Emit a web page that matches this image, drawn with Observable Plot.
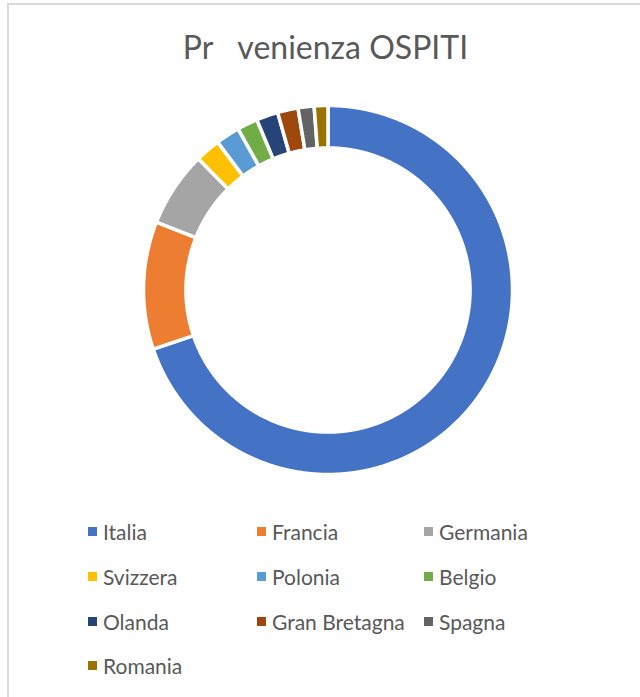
<!DOCTYPE html>
<html>
<head>
<meta charset="utf-8">
<script src="https://cdn.jsdelivr.net/npm/d3@7"></script>
<script src="https://cdn.jsdelivr.net/npm/@observablehq/plot@0.6"></script>
<style>
  html, body { margin: 0; padding: 0; background: #fff; }
  #wrap { position: relative; width: 640px; height: 697px; overflow: hidden; font-family: Lato, "Open Sans", sans-serif; color: #595959; }
  #frame { position: absolute; left: 7px; top: 3px; width: 700px; height: 720px; border-left: 2px solid #d9d9d9; border-top: 2px solid #d9d9d9; box-sizing: border-box; }
  #title { position: absolute; left: 0; width: 651px; top: 31px; text-align: center; font-size: 32px; line-height: 32px; white-space: pre; }
  #chart { position: absolute; left: 0; top: 0; }
  #legend { position: absolute; left: 0; top: 0; }
  .item { position: absolute; display: flex; align-items: center; font-size: 21px; line-height: 21px; white-space: nowrap; }
  .sw { width: 9px; height: 9px; margin-right: 6px; }
</style>
</head>
<body>
<div id="wrap">
  <div id="frame"></div>
  <div id="title"></div>
  <div id="chart"></div>
  <div id="legend"></div>
</div>
<script>
const title = "Pr\u2003venienza OSPITI";
const countries = ["Italia", "Francia", "Germania", "Svizzera", "Polonia", "Belgio", "Olanda", "Gran Bretagna", "Spagna", "Romania"];
const shares = [69.8, 11.2, 6.6, 2.2, 2.1, 1.8, 1.9, 1.8, 1.4, 1.2];
const palette = ["#4472C4", "#ED7D31", "#A5A5A5", "#FFC000", "#5B9BD5", "#70AD47", "#264478", "#9E480E", "#636363", "#997300"];

document.getElementById("title").textContent = title;

// build donut slices as planar polygons (data space) from the shares
const R = 1, r = 0.77;
const total = d3.sum(shares);
let acc = 0;
const features = countries.map((name, i) => {
  const a0 = acc / total * 2 * Math.PI;
  acc += shares[i];
  const a1 = acc / total * 2 * Math.PI;
  const n = Math.max(4, Math.ceil((a1 - a0) / 0.004));
  const ring = [];
  for (let k = 0; k <= n; k++) { const a = a0 + (a1 - a0) * k / n; ring.push([R * Math.sin(a), R * Math.cos(a)]); }
  for (let k = n; k >= 0; k--) { const a = a0 + (a1 - a0) * k / n; ring.push([r * Math.sin(a), r * Math.cos(a)]); }
  ring.push(ring[0]);
  return {type: "Feature", properties: {name}, geometry: {type: "Polygon", coordinates: [ring]}};
});
const circle = [];
for (let k = 0; k <= 360; k++) { const a = k / 360 * 2 * Math.PI; circle.push([R * Math.sin(a), R * Math.cos(a)]); }
const outline = {type: "Polygon", coordinates: [circle]};

const chart = Plot.plot({
  width: 640,
  height: 500,
  marginLeft: 143,
  marginRight: 128,
  marginTop: 105,
  marginBottom: 26,
  projection: {type: "reflect-y", domain: outline, inset: 0},
  color: {domain: countries, range: palette},
  style: {background: "transparent"},
  marks: [
    Plot.geo(features, {fill: d => d.properties.name, stroke: "white", strokeWidth: 3.5})
  ]
});
document.getElementById("chart").appendChild(chart);

// legend (3 columns)
const colX = [88, 257, 424];
const rowY = [531, 576, 621, 665];
const leg = document.getElementById("legend");
countries.forEach((name, i) => {
  const div = document.createElement("div");
  div.className = "item";
  div.style.left = colX[i % 3] + "px";
  div.style.top = (rowY[Math.floor(i / 3)] - 10) + "px";
  const sw = document.createElement("span");
  sw.className = "sw";
  sw.style.background = palette[i];
  const tx = document.createElement("span");
  tx.textContent = name;
  div.appendChild(sw); div.appendChild(tx);
  leg.appendChild(div);
});
</script>
</body>
</html>
